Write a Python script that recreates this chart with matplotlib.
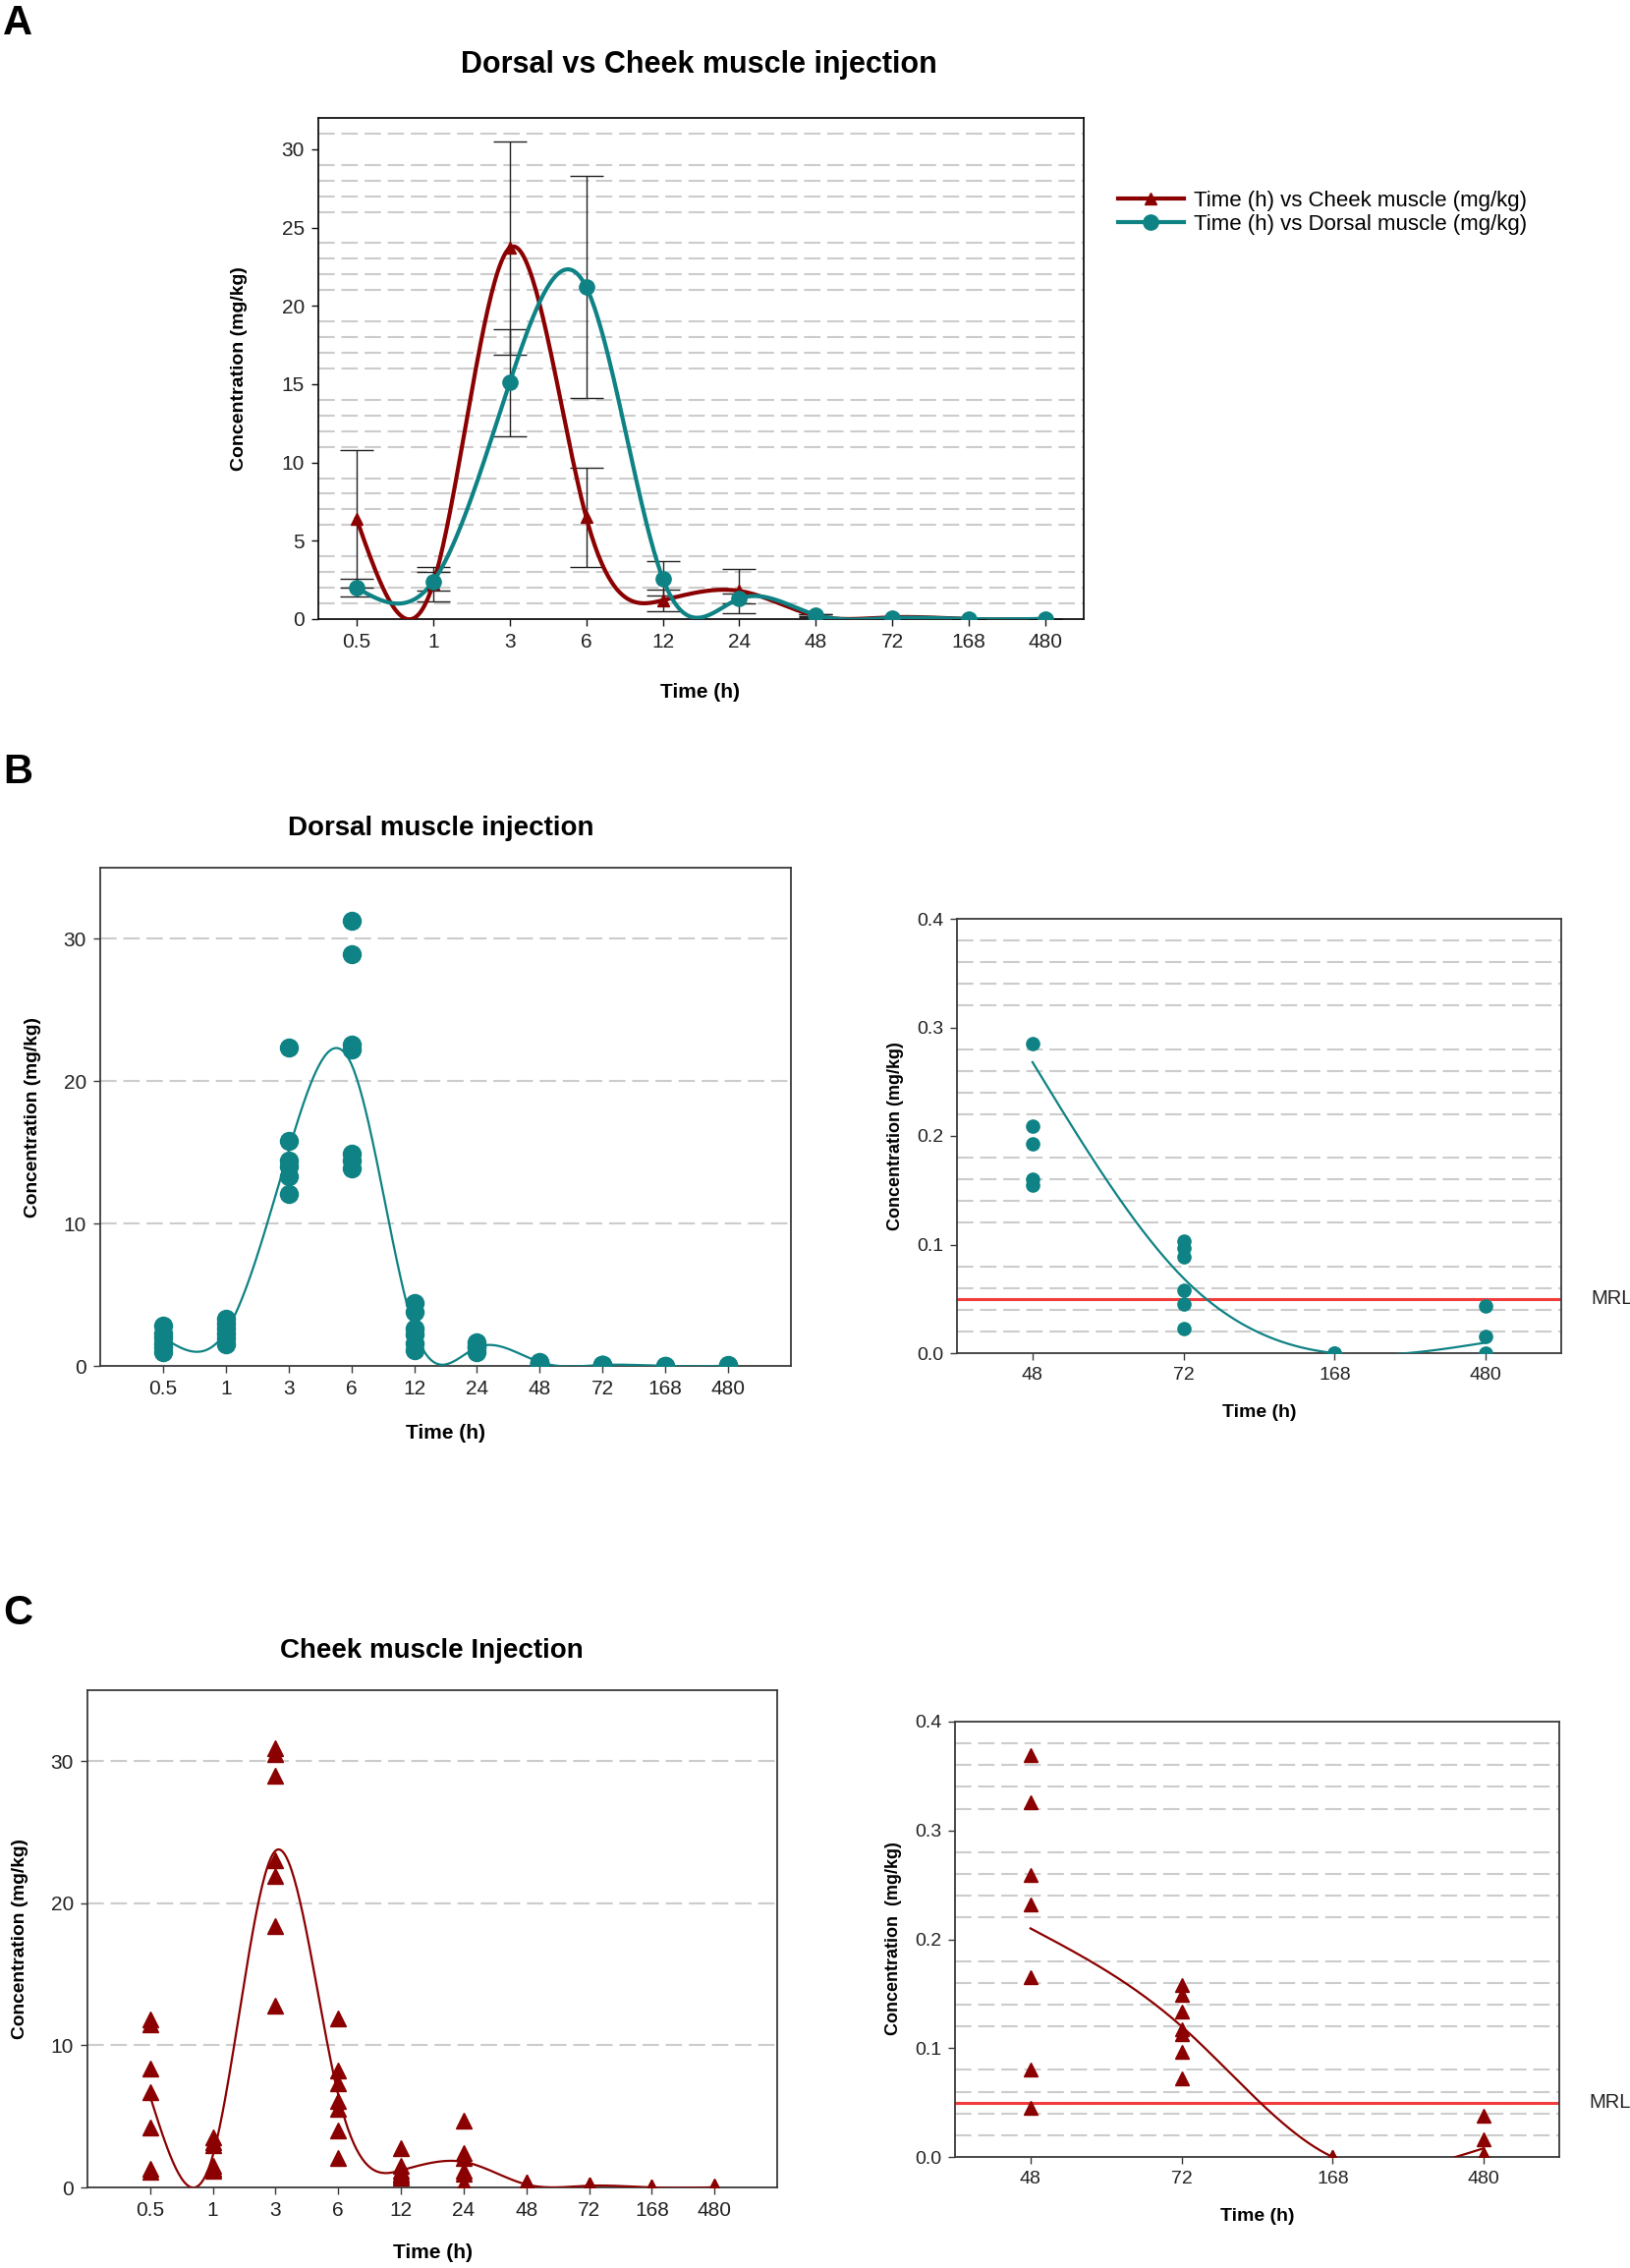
import numpy as np
import matplotlib
matplotlib.use("Agg")
import matplotlib.pyplot as plt
from matplotlib import font_manager
from matplotlib.lines import Line2D

# ---- data ----
time_labels = ["0.5", "1", "3", "6", "12", "24", "48", "72", "168", "480"]
late_labels = ["48", "72", "168", "480"]

# group means and SD (panel A)
dorsal_mean = [2.0, 2.4, 15.1, 21.2, 2.6, 1.3, 0.268, 0.069, 0.0, 0.0097]
dorsal_sd = [0.56, 0.6, 3.4, 7.1, 1.1, 0.3, 0.05, 0.03, 0.0, 0.01]
cheek_mean = [6.4, 2.25, 23.7, 6.5, 1.2, 1.8, 0.21, 0.12, 0.0, 0.008]
cheek_sd = [4.4, 1.1, 6.8, 3.15, 0.7, 1.4, 0.11, 0.03, 0.0, 0.01]

# individual samples (panels B and C)
dorsal_points = [
    [2.8, 2.3, 2.0, 1.6, 1.3, 1.0],
    [3.3, 3.0, 2.6, 2.3, 1.9, 1.5],
    [22.4, 15.8, 14.4, 14.0, 13.3, 12.1],
    [31.3, 28.9, 22.6, 22.2, 14.9, 14.4, 13.9],
    [4.4, 3.8, 2.6, 2.2, 1.6, 1.1],
    [1.65, 1.4, 1.3, 1.0],
    [0.285, 0.209, 0.193, 0.160, 0.155],
    [0.103, 0.097, 0.089, 0.058, 0.045, 0.023],
    [0.0, 0.0],
    [0.043, 0.015, 0.0],
]
cheek_points = [
    [11.8, 11.5, 8.4, 6.7, 4.2, 1.3, 1.1],
    [3.5, 3.2, 3.0, 1.5, 1.3, 1.2],
    [30.9, 30.5, 29.0, 23.0, 21.9, 18.4, 12.8],
    [11.9, 8.2, 7.3, 6.1, 5.5, 4.0, 2.1],
    [2.8, 1.5, 1.2, 1.0, 0.8, 0.7],
    [4.7, 2.4, 2.1, 1.2, 1.0, 0.3],
    [0.369, 0.326, 0.259, 0.232, 0.165, 0.080, 0.045],
    [0.158, 0.149, 0.134, 0.117, 0.113, 0.097, 0.072],
    [0.0, 0.0],
    [0.038, 0.016, 0.003, 0.0],
]
mrl = 0.05

# ---- style ----
RED = "#8b0000"
TEAL = "#0e8284"
MRL_RED = "#f23c3c"
GRID = "#cccccc"
FRAME = "#3a3a3a"

names = {f.name for f in font_manager.fontManager.ttflist}
BASE = "Liberation Sans" if "Liberation Sans" in names else "DejaVu Sans"
TICKF = "Liberation Sans Narrow" if "Liberation Sans Narrow" in names else BASE
plt.rcParams["font.family"] = [BASE, "DejaVu Sans"]

W, H = 1659, 2308


def natural_spline(x, y, num=400):
    x = np.asarray(x, float)
    y = np.asarray(y, float)
    n = len(x)
    h = np.diff(x)
    A = np.zeros((n, n))
    b = np.zeros(n)
    A[0, 0] = A[-1, -1] = 1
    for i in range(1, n - 1):
        A[i, i - 1] = h[i - 1]
        A[i, i] = 2 * (h[i - 1] + h[i])
        A[i, i + 1] = h[i]
        b[i] = 6 * ((y[i + 1] - y[i]) / h[i] - (y[i] - y[i - 1]) / h[i - 1])
    M = np.linalg.solve(A, b)
    xs = np.linspace(x[0], x[-1], num)
    idx = np.clip(np.searchsorted(x, xs) - 1, 0, n - 2)
    x0, x1 = x[idx], x[idx + 1]
    hh = x1 - x0
    t0, t1 = x1 - xs, xs - x0
    ys = (M[idx] * t0 ** 3 / (6 * hh) + M[idx + 1] * t1 ** 3 / (6 * hh)
          + (y[idx] / hh - M[idx] * hh / 6) * t0
          + (y[idx + 1] / hh - M[idx + 1] * hh / 6) * t1)
    return xs, ys


def px_axes(fig, left, top, right, bottom):
    return fig.add_axes([left / W, 1 - bottom / H, (right - left) / W, (bottom - top) / H])


def dashed_grid(ax, levels):
    for v in levels:
        ax.axhline(v, color=GRID, lw=1.5, ls=(0, (8, 3.3)), zorder=0)


def style_axes(ax, color, labels, yticks, yfmt="{:g}", fs=15):
    for s in ax.spines.values():
        s.set_color(color)
        s.set_linewidth(1.3)
    ax.set_xticks(range(len(labels)))
    ax.set_xticklabels(labels)
    ax.set_yticks(yticks)
    ax.set_yticklabels([yfmt.format(v) for v in yticks])
    ax.tick_params(axis="both", direction="out", length=5, width=1.0, color=color,
                   labelsize=fs, pad=5)
    for t in ax.get_xticklabels() + ax.get_yticklabels():
        t.set_family([TICKF, BASE])
        t.set_color("#222222")


def ftext(fig, x, y, s, **kw):
    fig.text(x / W, 1 - y / H, s, **kw)


fig = plt.figure(figsize=(W / 100, H / 100), dpi=100)
fig.patch.set_facecolor("white")

xi = np.arange(len(time_labels))
xl = np.arange(len(late_labels))

# ---- panel A ----
axA = px_axes(fig, 324, 120, 1103, 630)
dashed_grid(axA, [v for v in range(1, 32) if v % 5])
axA.errorbar(xi, cheek_mean, yerr=cheek_sd, fmt="none", ecolor="#222222",
             elinewidth=1.0, capsize=12, capthick=1.0, zorder=2)
axA.errorbar(xi, dorsal_mean, yerr=dorsal_sd, fmt="none", ecolor="#222222",
             elinewidth=1.0, capsize=12, capthick=1.0, zorder=2)
sx, sy = natural_spline(xi, cheek_mean)
axA.plot(sx, sy, color=RED, lw=3, zorder=3)
sx, sy = natural_spline(xi, dorsal_mean)
axA.plot(sx, sy, color=TEAL, lw=3, zorder=4)
axA.plot(xi, cheek_mean, ls="none", marker="^", ms=8, color=RED, zorder=5)
axA.plot(xi, dorsal_mean, ls="none", marker="o", ms=11, color=TEAL, zorder=6)
axA.set_xlim(-0.5, 9.5)
axA.set_ylim(0, 32)
style_axes(axA, "#111111", time_labels, range(0, 31, 5))

handles = [
    Line2D([], [], color=RED, lw=3, marker="^", ms=9),
    Line2D([], [], color=TEAL, lw=3, marker="o", ms=11),
]
fig.legend(handles, ["Time (h) vs Cheek muscle (mg/kg)", "Time (h) vs Dorsal muscle (mg/kg)"],
           loc="upper left", bbox_to_anchor=(1138 / W, 1 - 194 / H), frameon=False,
           fontsize=16, handlelength=3.0, handletextpad=0.45, labelspacing=0.12,
           borderpad=0, borderaxespad=0)

ftext(fig, 3, 24, "A", fontsize=30, fontweight="bold", va="center", ha="left")
ftext(fig, 711, 66, "Dorsal vs Cheek muscle injection", fontsize=22, fontweight="bold",
      ha="center", va="center")
ftext(fig, 244, 375, "Concentration (mg/kg)", fontsize=14, fontweight="bold",
      rotation=90, ha="center", va="center")
ftext(fig, 713, 705, "Time (h)", fontsize=15, fontweight="bold", ha="center", va="center")

# ---- panel B ----
axB = px_axes(fig, 102, 883, 805, 1390)
dashed_grid(axB, [10, 20, 30])
sx, sy = natural_spline(xi, dorsal_mean)
axB.plot(sx, sy, color=TEAL, lw=1.6, zorder=3)
for i, pts in enumerate(dorsal_points):
    axB.plot([xi[i]] * len(pts), pts, ls="none", marker="o", ms=13, color=TEAL, zorder=4)
axB.set_xlim(-1, 10)
axB.set_ylim(0, 35)
style_axes(axB, FRAME, time_labels, [0, 10, 20, 30])

ftext(fig, 3, 786, "B", fontsize=30, fontweight="bold", va="center", ha="left")
ftext(fig, 449, 843, "Dorsal muscle injection", fontsize=20, fontweight="bold",
      ha="center", va="center")
ftext(fig, 34, 1137, "Concentration (mg/kg)", fontsize=13.8, fontweight="bold",
      rotation=90, ha="center", va="center")
ftext(fig, 453, 1458, "Time (h)", fontsize=15, fontweight="bold", ha="center", va="center")

axBr = px_axes(fig, 974, 935, 1589, 1377)
dashed_grid(axBr, [v / 100 for v in range(2, 40, 2) if v % 10])
axBr.axhline(mrl, color=MRL_RED, lw=2.2, zorder=2)
sx, sy = natural_spline(xl, dorsal_mean[6:])
axBr.plot(sx, sy, color=TEAL, lw=1.6, zorder=3)
for i, pts in enumerate(dorsal_points[6:]):
    axBr.plot([xl[i]] * len(pts), pts, ls="none", marker="o", ms=9.5, color=TEAL, zorder=4)
axBr.set_xlim(-0.5, 3.5)
axBr.set_ylim(0, 0.4)
style_axes(axBr, FRAME, late_labels, [0, 0.1, 0.2, 0.3, 0.4], "{:.1f}", fs=14)
axBr.text(1.05, mrl, "MRL", transform=axBr.get_yaxis_transform(), fontsize=14.5,
          va="center", ha="left", color="#222222")
ftext(fig, 912, 1156, "Concentration (mg/kg)", fontsize=13, fontweight="bold",
      rotation=90, ha="center", va="center")
ftext(fig, 1282, 1437, "Time (h)", fontsize=14, fontweight="bold", ha="center", va="center")

# ---- panel C ----
axC = px_axes(fig, 89, 1720, 791, 2226)
dashed_grid(axC, [10, 20, 30])
sx, sy = natural_spline(xi, cheek_mean)
axC.plot(sx, sy, color=RED, lw=1.6, zorder=3)
for i, pts in enumerate(cheek_points):
    axC.plot([xi[i]] * len(pts), pts, ls="none", marker="^", ms=11, color=RED, zorder=4)
axC.set_xlim(-1, 10)
axC.set_ylim(0, 35)
style_axes(axC, FRAME, time_labels, [0, 10, 20, 30])

ftext(fig, 3, 1642, "C", fontsize=30, fontweight="bold", va="center", ha="left")
ftext(fig, 439, 1680, "Cheek muscle Injection", fontsize=20, fontweight="bold",
      ha="center", va="center")
ftext(fig, 21, 1973, "Concentration (mg/kg)", fontsize=13.8, fontweight="bold",
      rotation=90, ha="center", va="center")
ftext(fig, 440, 2293, "Time (h)", fontsize=15, fontweight="bold", ha="center", va="center")

axCr = px_axes(fig, 972, 1752, 1587, 2195)
dashed_grid(axCr, [v / 100 for v in range(2, 40, 2) if v % 10])
axCr.axhline(mrl, color=MRL_RED, lw=2.2, zorder=2)
sx, sy = natural_spline(xl, cheek_mean[6:])
axCr.plot(sx, sy, color=RED, lw=1.6, zorder=3)
for i, pts in enumerate(cheek_points[6:]):
    axCr.plot([xl[i]] * len(pts), pts, ls="none", marker="^", ms=9.5, color=RED, zorder=4)
axCr.set_xlim(-0.5, 3.5)
axCr.set_ylim(0, 0.4)
style_axes(axCr, FRAME, late_labels, [0, 0.1, 0.2, 0.3, 0.4], "{:.1f}", fs=14)
axCr.text(1.05, mrl, "MRL", transform=axCr.get_yaxis_transform(), fontsize=14.5,
          va="center", ha="left", color="#222222")
ftext(fig, 910, 1973, "Concentration  (mg/kg)", fontsize=13, fontweight="bold",
      rotation=90, ha="center", va="center")
ftext(fig, 1280, 2255, "Time (h)", fontsize=14, fontweight="bold", ha="center", va="center")

fig.savefig("out.png", dpi=100, facecolor="white")
